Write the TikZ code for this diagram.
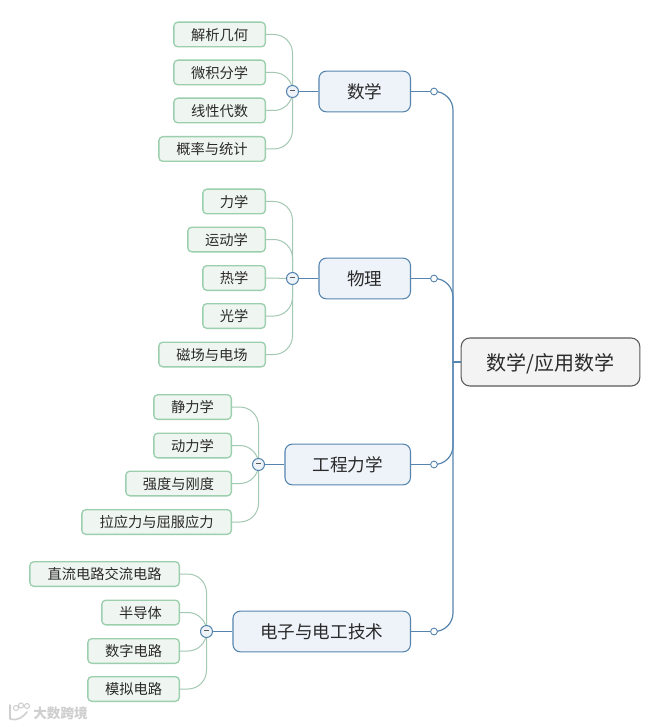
\documentclass[tikz,border=0pt]{standalone}
\usepackage{fontspec}
\setmainfont{Noto Sans CJK SC}
\def\px{0.75pt}
\definecolor{leafline}{HTML}{9CCFAE}
\definecolor{leaffill}{HTML}{EFF6F1}
\definecolor{branchline}{HTML}{A3C8B3}
\definecolor{mainline}{HTML}{5585AF}
\definecolor{mainfill}{HTML}{EEF3FA}
\definecolor{rootline}{HTML}{5A5A5A}
\definecolor{rootfill}{HTML}{F3F3F3}
\definecolor{inktext}{HTML}{2A2A2A}
\definecolor{markgrey}{HTML}{CFCFCF}
\tikzset{
  x=0.75pt,y=-0.75pt,
  leafbox/.style={draw=leafline,fill=leaffill,line width=1pt,rounded corners=3pt,anchor=east,
    minimum height=18.5pt,inner sep=0pt,text height=9.9pt,text depth=1.2pt,
    font=\fontsize{10.7pt}{12pt}\selectfont,text=inktext},
  mainbox/.style={draw=mainline,fill=mainfill,line width=0.8pt,rounded corners=5.5pt,anchor=east,
    minimum height=30.5pt,inner sep=0pt,font=\fontsize{13.2pt}{15pt}\selectfont,text=inktext},
  rootbox/.style={draw=rootline,fill=rootfill,line width=0.8pt,rounded corners=6.5pt,
    minimum height=36pt,minimum width=134pt,inner sep=0pt,text height=14pt,text depth=1.6pt,
    font=\fontsize{15pt}{18pt}\selectfont,text=inktext},
  hubdot/.style={circle,draw=mainline,fill=mainfill,line width=0.8pt,minimum size=9pt,inner sep=0pt},
  tapdot/.style={circle,draw=mainline,fill=white,line width=0.6pt,minimum size=5pt,inner sep=0pt},
  twig/.style={draw=branchline,line width=0.75pt,rounded corners=14pt},
  stem/.style={draw=mainline,line width=0.75pt},
  trunk/.style={draw=mainline,line width=0.9pt,rounded corners=14pt},
  feed/.style={draw=mainline,line width=1.1pt},
}
\newcommand{\hubmark}{\textcolor{rootline}{\rule[1.5pt]{4pt}{1.4pt}}}
\begin{document}
\begin{tikzpicture}
\useasboundingbox[fill=white] (0,0) rectangle (667,727);

% root
\node[rootbox] (root) at (550.5,362) {数学/应用数学};
\coordinate (tk) at (453,362);

% main topics
\node[mainbox,minimum width={91.5*\px}] (m1) at (411,91.5) {数学};
\node[mainbox,minimum width={91.5*\px}] (m2) at (411,278.5) {物理};
\node[mainbox,minimum width={125.5*\px}] (m3) at (411,464.5) {工程力学};
\node[mainbox,minimum width={177.5*\px}] (m4) at (411,631.5) {电子与电工技术};

% taps on the trunk
\node[tapdot] (c1) at (434,91.5) {};
\node[tapdot] (c2) at (434,278.5) {};
\node[tapdot] (c3) at (434,464.5) {};
\node[tapdot] (c4) at (434,631.5) {};

% leaves: maths
\node[leafbox,minimum width={91.5*\px}] (a1) at (266,34.5) {解析几何};
\node[leafbox,minimum width={91.5*\px}] (a2) at (266,72.5) {微积分学};
\node[leafbox,minimum width={91.5*\px}] (a3) at (266,110.5) {线性代数};
\node[leafbox,minimum width={106.5*\px}] (a4) at (266,149) {概率与统计};
% leaves: physics
\node[leafbox,minimum width={62.5*\px}] (b1) at (266,201.5) {力学};
\node[leafbox,minimum width={77.5*\px}] (b2) at (266,239.5) {运动学};
\node[leafbox,minimum width={62.5*\px}] (b3) at (266,278) {热学};
\node[leafbox,minimum width={62.5*\px}] (b4) at (266,316) {光学};
\node[leafbox,minimum width={106.5*\px}] (b5) at (266,354.5) {磁场与电场};
% leaves: engineering mechanics
\node[leafbox,minimum width={77.5*\px}] (d1) at (232,407) {静力学};
\node[leafbox,minimum width={77.5*\px}] (d2) at (232,445.5) {动力学};
\node[leafbox,minimum width={105.5*\px}] (d3) at (232,483.5) {强度与刚度};
\node[leafbox,minimum width={149.5*\px}] (d4) at (232,522) {拉应力与屈服应力};
% leaves: electronics
\node[leafbox,minimum width={149.5*\px}] (e1) at (180,574) {直流电路交流电路};
\node[leafbox,minimum width={77.5*\px}] (e2) at (180,612.5) {半导体};
\node[leafbox,minimum width={91.5*\px}] (e3) at (180,651) {数字电路};
\node[leafbox,minimum width={91.5*\px}] (e4) at (180,689) {模拟电路};

% hubs
\coordinate (h1) at (292.5,91.5);
\coordinate (h2) at (292.5,278.5);
\coordinate (h3) at (258.5,464.5);
\coordinate (h4) at (206.5,631.5);

% twigs
\foreach \l in {a1,a2,a3,a4} \draw[twig] (\l.east) -| (h1);
\foreach \l in {b1,b2,b4,b5} \draw[twig] (\l.east) -| (h2);
\draw[twig] (b3.east) -- (h2);
\foreach \l in {d1,d2,d3,d4} \draw[twig] (\l.east) -| (h3);
\foreach \l in {e1,e2,e3,e4} \draw[twig] (\l.east) -| (h4);

% hub nodes and stems
\node[hubdot] (n1) at (h1) {\hubmark};
\node[hubdot] (n2) at (h2) {\hubmark};
\node[hubdot] (n3) at (h3) {\hubmark};
\node[hubdot] (n4) at (h4) {\hubmark};
\draw[stem] (n1) -- (m1.west);
\draw[stem] (n2) -- (m2.west);
\draw[stem] (n3) -- (m3.west);
\draw[stem] (n4) -- (m4.west);

% trunk
\draw[feed] (root.west) -- (tk);
\foreach \c in {c1,c2,c3,c4} \draw[trunk] (tk) |- (\c);
\foreach \m/\c in {m1/c1,m2/c2,m3/c3,m4/c4} \draw[feed] (\m.east) -- (\c);
\foreach \c in {c1,c2,c3,c4} \node[tapdot] at (\c) {};

% watermark
\draw[markgrey,line width=1.2pt,line cap=round] (10,705) -- (10,719) (11,719) .. controls (18,721) and (23,717) .. (27,712);
\draw[markgrey,line width=0.8pt] (16,708) circle (2.5) (21,705.5) circle (2.5) (27,706) circle (2.5);
\node[text=markgrey,font=\bfseries\fontsize{10.2pt}{12pt}\selectfont,inner sep=0pt] (wm) at (60.5,713.5) {大数跨境};
\end{tikzpicture}
\end{document}
